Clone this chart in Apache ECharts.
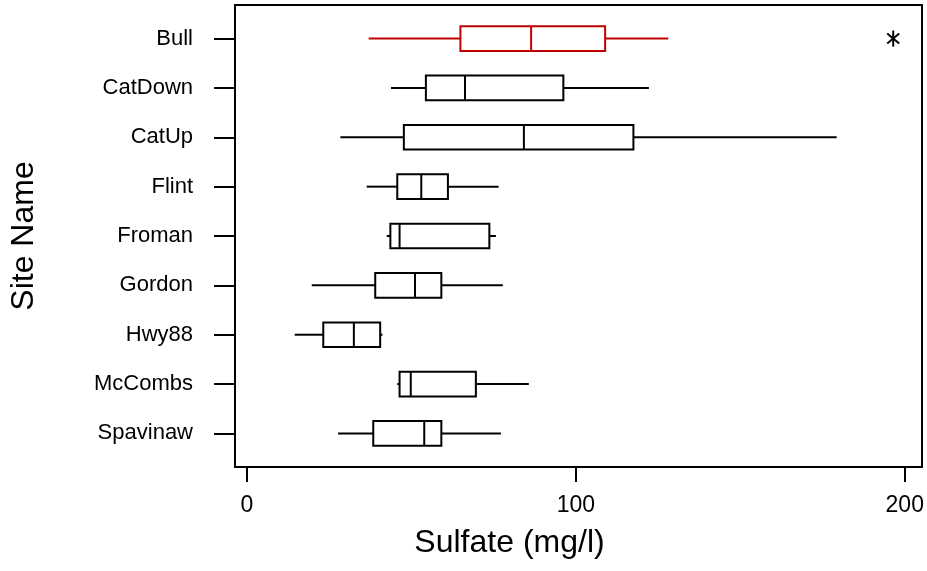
<!DOCTYPE html>
<html>
<head>
<meta charset="utf-8">
<script src="https://cdn.jsdelivr.net/npm/echarts@6/dist/echarts.min.js"></script>
<style>
  html, body { margin: 0; padding: 0; background: #fff; }
  #chart { width: 927px; height: 571px; }
</style>
</head>
<body>
<div id="chart"></div>
<script>
// Sulfate concentration summaries per sampling site
const sites = ['Bull', 'CatDown', 'CatUp', 'Flint', 'Froman', 'Gordon', 'Hwy88', 'McCombs', 'Spavinaw'];
const lowWhisker  = [37.0, 43.8, 28.4, 36.4, 42.5, 19.7, 14.5, 45.7, 27.7];
const q1          = [64.9, 54.4, 47.7, 45.7, 43.6, 39.0, 23.2, 46.4, 38.4];
const median      = [86.4, 66.3, 84.2, 53.0, 46.4, 51.1, 32.5, 49.8, 53.9];
const q3          = [108.9, 96.2, 117.5, 61.1, 73.7, 59.1, 40.5, 69.6, 59.1];
const highWhisker = [128.1, 122.2, 179.3, 76.5, 75.7, 77.8, 41.2, 85.7, 77.2];
const outlierSite  = ['Bull'];
const outlierValue = [196.5];
const xTicks = [0, 100, 200];

const highlightSite = 'Bull';
const FONT = '"Liberation Sans", Arial, sans-serif';

const boxData = sites.map((s, i) => [i, lowWhisker[i], q1[i], median[i], q3[i], highWhisker[i]]);
const outlierData = outlierSite.map((s, k) => [sites.indexOf(s), outlierValue[k]]);
const siteIdx = sites.map((s, i) => i);

function renderBox(params, api) {
  const i = api.value(0);
  const color = sites[i] === highlightSite ? '#c00000' : '#000';
  const lo = api.coord([api.value(1), i]);
  const a = api.coord([api.value(2), i]);
  const m = api.coord([api.value(3), i]);
  const b = api.coord([api.value(4), i]);
  const hi = api.coord([api.value(5), i]);
  const half = api.size([0, 1])[1] * 0.25;
  const y = a[1];
  const st = { stroke: color, lineWidth: 2, fill: null };
  return {
    type: 'group',
    children: [
      { type: 'line', shape: { x1: lo[0], y1: y, x2: a[0], y2: y }, style: st },
      { type: 'line', shape: { x1: b[0], y1: y, x2: hi[0], y2: y }, style: st },
      { type: 'rect', shape: { x: a[0], y: y - half, width: b[0] - a[0], height: 2 * half },
        style: { stroke: color, lineWidth: 2, fill: '#fff' } },
      { type: 'line', shape: { x1: m[0], y1: y - half, x2: m[0], y2: y + half }, style: st }
    ]
  };
}

function renderOutlier(params, api) {
  const p = api.coord([api.value(1), api.value(0)]);
  const st = { stroke: '#000', lineWidth: 2 };
  return {
    type: 'group',
    children: [
      { type: 'line', shape: { x1: p[0], y1: p[1] - 8, x2: p[0], y2: p[1] + 8 }, style: st },
      { type: 'line', shape: { x1: p[0] - 6, y1: p[1] - 5, x2: p[0] + 6, y2: p[1] + 5 }, style: st },
      { type: 'line', shape: { x1: p[0] - 6, y1: p[1] + 5, x2: p[0] + 6, y2: p[1] - 5 }, style: st }
    ]
  };
}

const chart = echarts.init(document.getElementById('chart'), null, { renderer: 'canvas' });
chart.setOption({
  animation: false,
  backgroundColor: '#fff',
  grid: {
    left: 233, right: 5, top: 5, bottom: 104,
    show: true, borderColor: '#000', borderWidth: 2, backgroundColor: 'transparent'
  },
  xAxis: {
    type: 'value',
    position: 'bottom',
    min: -3.64, max: 205.25,
    axisLine: { show: false, onZero: false },
    splitLine: { show: false },
    axisTick: { show: true, inside: false, length: 15, customValues: xTicks,
      lineStyle: { color: '#000', width: 2 } },
    axisLabel: { customValues: xTicks, margin: 27, color: '#000',
      fontFamily: FONT, fontSize: 23 },
    name: 'Sulfate (mg/l)',
    nameLocation: 'middle',
    nameGap: 76,
    nameTextStyle: { color: '#000', fontFamily: FONT, fontSize: 32,
      verticalAlign: 'middle', padding: [0, 138, 0, 0] }
  },
  yAxis: {
    type: 'value',
    position: 'left',
    inverse: true,
    min: -0.68, max: 8.68,
    axisLine: { show: false, onZero: false },
    splitLine: { show: false },
    axisTick: { show: true, inside: false, length: 21, customValues: siteIdx,
      lineStyle: { color: '#000', width: 2 } },
    axisLabel: { customValues: siteIdx, margin: 42, color: '#000',
      fontFamily: FONT, fontSize: 22,
      formatter: v => sites[Math.round(v)] || '' },
    name: 'Site Name',
    nameLocation: 'middle',
    nameGap: 211,
    nameTextStyle: { color: '#000', fontFamily: FONT, fontSize: 32,
      verticalAlign: 'middle' }
  },
  series: [
    { type: 'custom', renderItem: renderBox, data: boxData,
      encode: { x: [1, 2, 3, 4, 5], y: 0 }, clip: false },
    { type: 'custom', renderItem: renderOutlier, data: outlierData,
      encode: { x: 1, y: 0 }, clip: false }
  ]
});
</script>
</body>
</html>
